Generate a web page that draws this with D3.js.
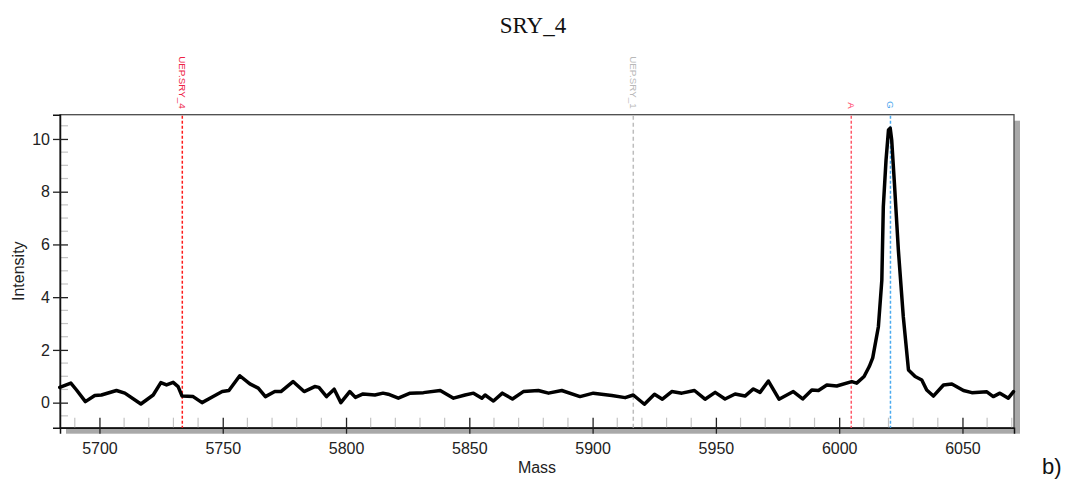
<!DOCTYPE html>
<html>
<head>
<meta charset="utf-8">
<script src="https://cdn.jsdelivr.net/npm/d3@7/dist/d3.min.js"></script>
<style>
  body { margin: 0; background: #fff; }
  svg { display: block; }
</style>
</head>
<body>
<svg id="chart" width="1076" height="487"></svg>
<script>
// spectrum trace
var MASS = [5683.9, 5688.4, 5690.7, 5694.3, 5698.1, 5700.8, 5706.9, 5710.3, 5716.8, 5721.8,
  5724.9, 5727.2, 5729.9, 5731.9, 5733.5, 5738.0, 5741.6, 5746.1, 5749.8, 5752.5,
  5756.9, 5761.0, 5764.4, 5767.3, 5771.1, 5773.6, 5778.5, 5783.0, 5787.3, 5789.0,
  5792.1, 5795.2, 5797.9, 5801.5, 5803.8, 5806.9, 5811.7, 5815.0, 5817.1, 5821.2,
  5826.0, 5831.4, 5838.2, 5843.6, 5848.3, 5851.7, 5855.1, 5856.4, 5859.8, 5863.4,
  5867.5, 5871.9, 5878.0, 5882.1, 5887.5, 5894.9, 5900.3, 5907.8, 5913.2, 5916.5,
  5921.0, 5925.1, 5928.3, 5932.1, 5936.2, 5941.3, 5945.6, 5949.7, 5953.7, 5957.8,
  5961.8, 5965.2, 5967.9, 5971.3, 5975.6, 5981.4, 5985.2, 5988.9, 5991.6, 5995.0,
  5999.0, 6005.1, 6007.1, 6010.1, 6012.2, 6013.6, 6015.9, 6017.3, 6017.9, 6019.0,
  6020.0, 6020.7, 6021.3, 6022.4, 6024.0, 6026.0, 6028.1, 6030.8, 6033.5, 6035.5,
  6038.2, 6042.3, 6045.7, 6050.4, 6053.8, 6059.9, 6062.5, 6065.2, 6068.6, 6070.7];
var INTENSITY = [0.58, 0.74, 0.48, 0.04, 0.27, 0.29, 0.46, 0.36, -0.05, 0.29,
  0.76, 0.67, 0.77, 0.61, 0.25, 0.23, 0.0, 0.23, 0.42, 0.46,
  1.02, 0.71, 0.55, 0.23, 0.42, 0.42, 0.80, 0.42, 0.61, 0.58,
  0.23, 0.51, 0.0, 0.42, 0.20, 0.33, 0.29, 0.36, 0.32, 0.17,
  0.36, 0.38, 0.46, 0.17, 0.29, 0.36, 0.17, 0.29, 0.06, 0.36,
  0.14, 0.42, 0.46, 0.36, 0.46, 0.23, 0.36, 0.27, 0.19, 0.29,
  -0.06, 0.32, 0.13, 0.42, 0.36, 0.46, 0.13, 0.39, 0.14, 0.33,
  0.25, 0.52, 0.39, 0.82, 0.13, 0.42, 0.14, 0.48, 0.46, 0.67,
  0.63, 0.80, 0.74, 0.99, 1.37, 1.70, 2.88, 4.65, 7.43, 9.20,
  10.34, 10.41, 9.96, 8.32, 5.79, 3.26, 1.24, 0.99, 0.86, 0.48,
  0.25, 0.67, 0.71, 0.46, 0.38, 0.41, 0.23, 0.36, 0.17, 0.42];

// vertical markers
var MARKER_NAMES = ["UEP.SRY_4", "UEP.SRY_1", "A", "G"];
var MARKER_MASS = [5733.6, 5916.5, 6004.9, 6020.8];

var X_TICKS = [5700, 5750, 5800, 5850, 5900, 5950, 6000, 6050];
var Y_TICKS = [0, 2, 4, 6, 8, 10];

var TITLE = "SRY_4";
var X_TITLE = "Mass";
var Y_TITLE = "Intensity";
var PANEL = "b)";

(function () {
  var LEFT = 60, TOP = 114.7, RIGHT = 1014, BOTTOM = 427.7;
  var SHADOW = 6;
  var FONT = "'Liberation Sans', Arial, sans-serif";
  var markerColor = ["#ff1a1a", "#bdbdbd", "#ff5a6a", "#4aaaf0"];
  var markerText = ["#ee2244", "#b8b8b8", "#ff4466", "#55aaee"];
  var markerDash = ["3,2", "4,3", "3,2", "3,2"];

  var svg = d3.select("#chart");

  var x = d3.scaleLinear().domain([5684, 6070.9]).range([LEFT, RIGHT]);
  var y = d3.scaleLinear().domain([-0.95, 10.92]).range([BOTTOM, TOP]);

  // drop shadow of the frame
  svg.append("rect")
    .attr("x", LEFT + SHADOW).attr("y", TOP + SHADOW)
    .attr("width", RIGHT - LEFT).attr("height", BOTTOM - TOP)
    .attr("fill", "#a9a9a9");
  svg.append("rect")
    .attr("x", LEFT).attr("y", TOP)
    .attr("width", RIGHT - LEFT).attr("height", BOTTOM - TOP)
    .attr("fill", "#fff")
    .attr("stroke", "#4a4a4a")
    .attr("stroke-width", 1.3);

  // minor ticks, inside only
  var g = svg.append("g");
  g.selectAll(".xminor")
    .data(d3.range(5690, 6071, 10).filter(function (d) { return d % 50 !== 0; }))
    .enter().append("line")
    .attr("x1", function (d) { return x(d); }).attr("x2", function (d) { return x(d); })
    .attr("y1", BOTTOM - 10).attr("y2", BOTTOM)
    .attr("stroke", "#c4c4c4").attr("stroke-width", 1.2);
  g.selectAll(".yminor")
    .data(d3.range(-0.5, 10.6, 0.5).filter(function (d) { return d % 2 !== 0; }))
    .enter().append("line")
    .attr("x1", LEFT).attr("x2", LEFT + 8)
    .attr("y1", function (d) { return y(d); }).attr("y2", function (d) { return y(d); })
    .attr("stroke", "#c4c4c4").attr("stroke-width", 1.2);

  // axes
  var xAxis = svg.append("g")
    .attr("transform", "translate(0," + BOTTOM + ")")
    .call(d3.axisBottom(x).tickValues(X_TICKS).tickSize(6).tickPadding(9).tickFormat(d3.format("d")));
  xAxis.select(".domain").attr("stroke", "#111").attr("stroke-width", 1.5);
  xAxis.selectAll(".tick line").attr("y1", -10).attr("stroke", "#222").attr("stroke-width", 1.3);
  xAxis.selectAll(".tick text").attr("font-family", FONT).attr("font-size", 16).attr("fill", "#222");

  var yAxis = svg.append("g")
    .attr("transform", "translate(" + LEFT + ",0)")
    .call(d3.axisLeft(y).tickValues(Y_TICKS).tickSize(7).tickPadding(3));
  yAxis.select(".domain").attr("stroke", "#111").attr("stroke-width", 1.5);
  yAxis.selectAll(".tick line").attr("x1", 8).attr("stroke", "#222").attr("stroke-width", 1.3);
  yAxis.selectAll(".tick text").attr("font-family", FONT).attr("font-size", 16).attr("fill", "#222");

  // markers
  var markers = MARKER_NAMES.map(function (n, i) { return { name: n, mass: MARKER_MASS[i], i: i }; });
  svg.selectAll(".marker")
    .data(markers)
    .enter().append("line")
    .attr("x1", function (d) { return x(d.mass); }).attr("x2", function (d) { return x(d.mass); })
    .attr("y1", TOP + 1).attr("y2", BOTTOM)
    .attr("stroke", function (d) { return markerColor[d.i]; })
    .attr("stroke-width", 1.5)
    .attr("stroke-dasharray", function (d) { return markerDash[d.i]; });
  // rotate(90) puts the glyphs on the +x side of the baseline, so shift left
  svg.selectAll(".mlabel")
    .data(markers)
    .enter().append("text")
    .attr("transform", function (d) { return "translate(" + (x(d.mass) - 3.5) + "," + (TOP - 6) + ") rotate(90)"; })
    .attr("text-anchor", "end")
    .attr("font-family", FONT)
    .attr("font-size", 9.8)
    .attr("fill", function (d) { return markerText[d.i]; })
    .text(function (d) { return d.name; });

  // trace
  var pts = MASS.map(function (m, i) { return [m, INTENSITY[i]]; });
  svg.append("path")
    .datum(pts)
    .attr("fill", "none")
    .attr("stroke", "#000")
    .attr("stroke-width", 3.5)
    .attr("stroke-linejoin", "round")
    .attr("stroke-linecap", "round")
    .attr("d", d3.line().x(function (d) { return x(d[0]); }).y(function (d) { return y(d[1]); }));

  // texts
  svg.append("text")
    .attr("x", 533).attr("y", 33)
    .attr("text-anchor", "middle")
    .attr("font-family", "'Liberation Serif', 'Times New Roman', serif")
    .attr("font-size", 23)
    .attr("fill", "#111")
    .text(TITLE);
  svg.append("text")
    .attr("x", (LEFT + RIGHT) / 2).attr("y", 473)
    .attr("text-anchor", "middle")
    .attr("font-family", FONT).attr("font-size", 16).attr("fill", "#222")
    .text(X_TITLE);
  svg.append("text")
    .attr("transform", "translate(24," + ((TOP + BOTTOM) / 2) + ") rotate(-90)")
    .attr("text-anchor", "middle")
    .attr("font-family", FONT).attr("font-size", 16).attr("fill", "#222")
    .text(Y_TITLE);
  svg.append("text")
    .attr("x", 1042).attr("y", 474)
    .attr("font-family", FONT).attr("font-size", 22).attr("fill", "#111")
    .text(PANEL);
})();
</script>
</body>
</html>
